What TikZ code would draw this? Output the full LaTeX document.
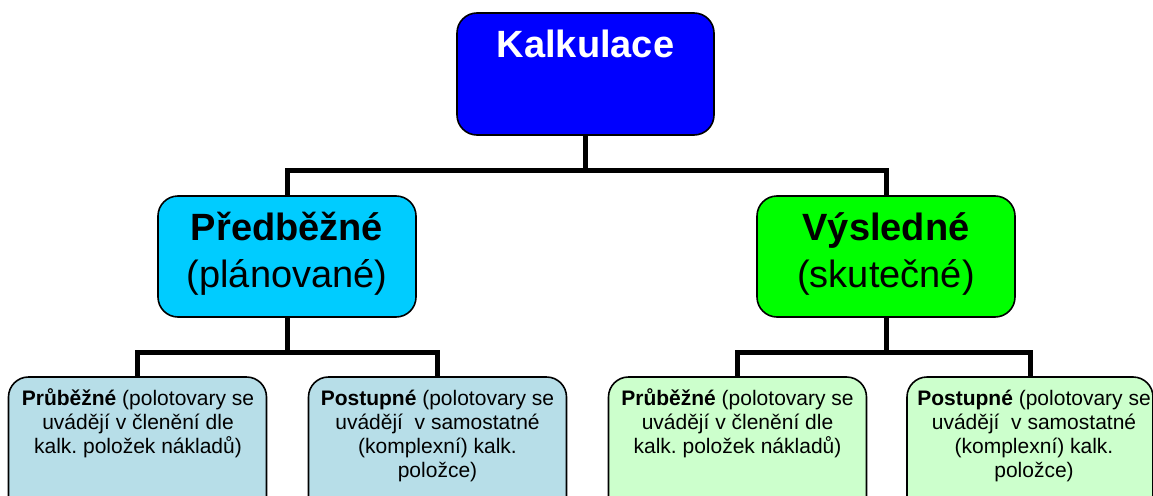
\documentclass[tikz,border=0pt]{standalone}
\usepackage{fontspec}
\setmainfont{Liberation Sans}
\usetikzlibrary{positioning}
\frenchspacing

\definecolor{topblue}{HTML}{0000FF}
\definecolor{planblue}{HTML}{00CCFF}
\definecolor{resgreen}{HTML}{00FF00}
\definecolor{planpale}{HTML}{B7DEE8}
\definecolor{respale}{HTML}{CCFFCC}

\begin{document}
\begin{tikzpicture}[x=1pt, y=-1pt,
    box/.style={draw=black, line width=1.6pt, rounded corners=20pt, inner sep=0pt},
    bigtext/.style={font=\fontsize{38}{47}\selectfont, align=center, inner sep=0pt, anchor=base},
    smalltext/.style={font=\fontsize{21}{24}\selectfont\frenchspacing, align=center, inner sep=0pt, anchor=base},
    link/.style={line width=5pt}]

    \clip (0,0) rectangle (1153,495);

    % --- Top level ---
    \node[box, fill=topblue, minimum width=257pt, minimum height=122pt] (calc) at (585.5,74) {};
    \node[bigtext, text=white] (calctext) at (585.5,58) {\textbf{Kalkulace}};

    % --- Second level (base = last line) ---
    \node[box, fill=planblue, minimum width=258pt, minimum height=121pt] (plan) at (287,256.5) {};
    \node[bigtext] (plantext) at (287,287) {\textbf{Předběžné}\\(plánované)};

    \node[box, fill=resgreen, minimum width=258pt, minimum height=121pt] (result) at (886,256.5) {};
    \node[bigtext] (resulttext) at (886,287) {\textbf{Výsledné}\\(skutečné)};

    % --- Third level ---
    \node[box, fill=planpale, minimum width=258pt, minimum height=143pt] (plancont) at (137.5,448.5) {};
    \node[smalltext] (plancontt) at (138,453) {\textbf{Průběžné} (polotovary se\\uvádějí v členění dle\\kalk. položek nákladů)};

    \node[box, fill=planpale, minimum width=258pt, minimum height=143pt] (planstep) at (437.5,448.5) {};
    \node[smalltext] (plansteptt) at (437.5,477) {\textbf{Postupné} (polotovary se\\uvádějí\ \ v samostatné\\(komplexní) kalk.\\položce)};

    \node[box, fill=respale, minimum width=258pt, minimum height=143pt] (rescont) at (737.5,448.5) {};
    \node[smalltext] (resconttt) at (737.5,453) {\textbf{Průběžné} (polotovary se\\uvádějí v členění dle\\kalk. položek nákladů)};

    \node[box, fill=respale, minimum width=246pt, minimum height=143pt] (resstep) at (1030,448.5) {};
    \node[smalltext] (ressteptt) at (1034,477) {\textbf{Postupné} (polotovary se\\uvádějí\ \ v samostatné\\(komplexní) kalk.\\položce)};

    % --- Connectors ---
    \draw[link] (calc.south) -- ++(0,35) -| (plan.north);
    \draw[link] (calc.south) -- ++(0,35) -| (result.north);
    \draw[link] (plan.south) -- ++(0,35) -| (plancont.north);
    \draw[link] (plan.south) -- ++(0,35) -| (planstep.north);
    \draw[link] (result.south) -- ++(0,35) -| (rescont.north);
    \draw[link] (result.south) -- ++(0,35) -| (resstep.north);

\end{tikzpicture}
\end{document}
